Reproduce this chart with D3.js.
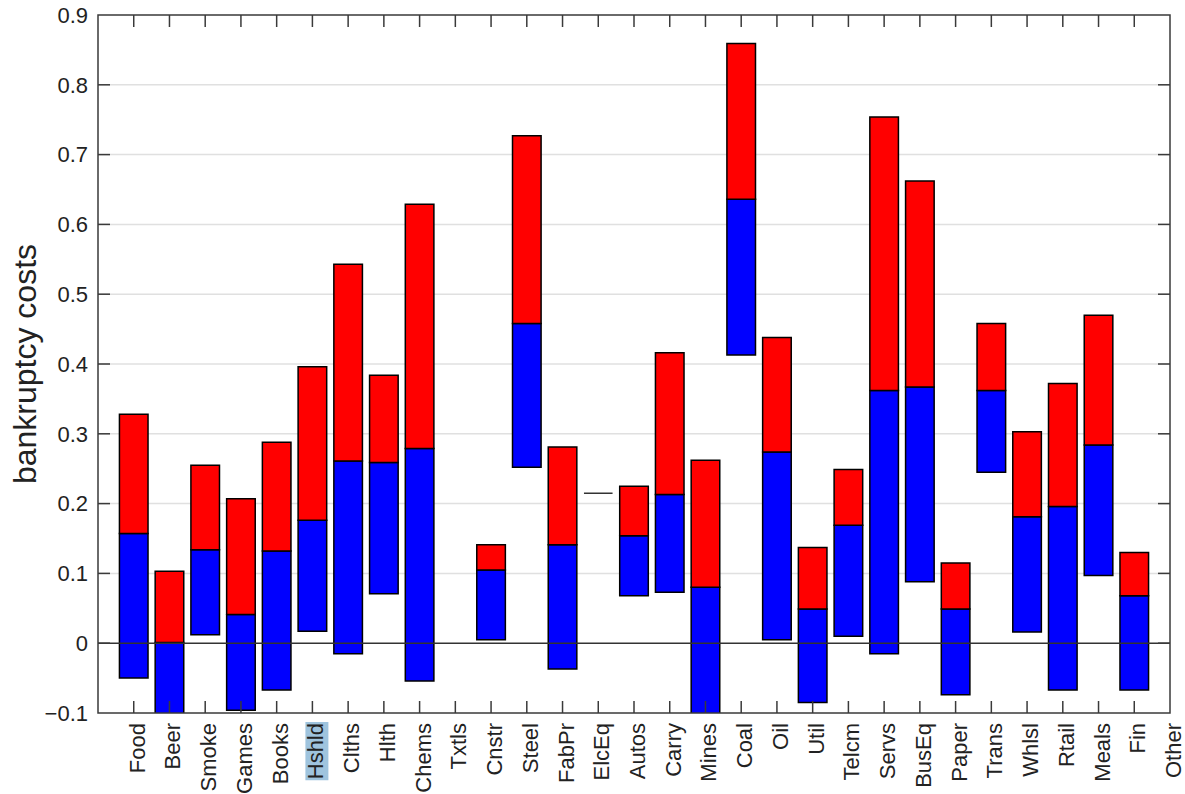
<!DOCTYPE html>
<html>
<head>
<meta charset="utf-8">
<script src="https://cdn.jsdelivr.net/npm/d3@7"></script>
<style>
  html, body { margin: 0; padding: 0; background: #fff; }
  svg { display: block; }
  text { font-family: Arial, "Liberation Sans", Helvetica, sans-serif; fill: #222; }
</style>
</head>
<body>
<svg id="chart" width="1185" height="794"></svg>
<script>
// Industry bankruptcy-cost ranges: blue = low..mid, red = mid..high
const categories = ["Food", "Beer", "Smoke", "Games", "Books", "Hshld", "Clths", "Hlth", "Chems", "Txtls",
  "Cnstr", "Steel", "FabPr", "ElcEq", "Autos", "Carry", "Mines", "Coal", "Oil", "Util",
  "Telcm", "Servs", "BusEq", "Paper", "Trans", "Whlsl", "Rtail", "Meals", "Fin", "Other"];

const lowValues = [-0.050, -0.110, 0.012, -0.096, -0.067, 0.017, -0.015, 0.071, -0.054, null,
  0.005, 0.252, -0.037, 0.215, 0.068, 0.073, -0.110, 0.413, 0.005, -0.085,
  0.010, -0.015, 0.088, -0.074, 0.245, 0.016, -0.067, 0.097, -0.067, null];

const midValues = [0.157, 0.001, 0.134, 0.041, 0.132, 0.176, 0.261, 0.259, 0.279, null,
  0.105, 0.458, 0.141, 0.215, 0.154, 0.213, 0.080, 0.636, 0.274, 0.049,
  0.169, 0.362, 0.367, 0.049, 0.362, 0.181, 0.196, 0.284, 0.068, null];

const highValues = [0.328, 0.103, 0.255, 0.207, 0.288, 0.396, 0.543, 0.384, 0.629, null,
  0.141, 0.727, 0.281, 0.215, 0.225, 0.416, 0.262, 0.859, 0.438, 0.137,
  0.249, 0.754, 0.662, 0.115, 0.458, 0.303, 0.372, 0.470, 0.130, null];

const yTicks = [-0.1, 0, 0.1, 0.2, 0.3, 0.4, 0.5, 0.6, 0.7, 0.8, 0.9];
const highlighted = "Hshld";

const svg = d3.select("#chart");
const plotLeft = 98, plotRight = 1170, plotTop = 15, plotBottom = 713;

// category i sits at position i+1 on a [0, 30] axis
const x = d3.scaleLinear().domain([0, categories.length]).range([plotLeft, plotRight]);
const y = d3.scaleLinear().domain([-0.1, 0.9]).range([plotBottom, plotTop]);
const barW = 0.8 * (x(1) - x(0));
const tickLen = 12;

svg.append("defs").append("clipPath").attr("id", "plotclip")
  .append("rect").attr("x", plotLeft).attr("y", plotTop)
  .attr("width", plotRight - plotLeft).attr("height", plotBottom - plotTop);

// horizontal grid
svg.append("g").selectAll("line").data(yTicks.filter(t => t !== 0 && t > -0.1 && t < 0.9)).join("line")
  .attr("x1", plotLeft).attr("x2", plotRight)
  .attr("y1", d => y(d)).attr("y2", d => y(d))
  .attr("stroke", "#e0e0e0").attr("stroke-width", 1.5);

// floating bars, drawn as closed paths so zero-height ranges still show as a line
const rows = categories.map((c, i) => ({ c, i, lo: lowValues[i], mid: midValues[i], hi: highValues[i] }))
  .filter(d => d.lo !== null);

function seg(d, a, b) {
  const cx = x(d.i + 1);
  const x0 = cx - barW / 2, x1 = cx + barW / 2;
  return `M${x0},${y(a)}H${x1}V${y(b)}H${x0}Z`;
}

const bars = svg.append("g").attr("clip-path", "url(#plotclip)");
bars.selectAll("path.lower").data(rows.filter(d => d.mid > d.lo)).join("path")
  .attr("class", "lower")
  .attr("d", d => seg(d, d.lo, d.mid))
  .attr("fill", "#0000ff").attr("stroke", "#000").attr("stroke-width", 1.5);
bars.selectAll("path.upper").data(rows.filter(d => d.hi > d.mid)).join("path")
  .attr("class", "upper")
  .attr("d", d => seg(d, d.mid, d.hi))
  .attr("fill", "#ff0000").attr("stroke", "#000").attr("stroke-width", 1.5);
bars.selectAll("path.flat").data(rows.filter(d => d.hi === d.lo)).join("path")
  .attr("class", "flat")
  .attr("d", d => seg(d, d.lo, d.hi))
  .attr("fill", "none").attr("stroke", "#333").attr("stroke-width", 1.5);

// zero reference line
svg.append("line")
  .attr("x1", plotLeft).attr("x2", plotRight).attr("y1", y(0)).attr("y2", y(0))
  .attr("stroke", "#333").attr("stroke-width", 1.5);

// axes box with inward ticks on all four sides
const axes = svg.append("g").attr("stroke", "#3a3a3a").attr("stroke-width", 1.5);
axes.append("rect").attr("x", plotLeft).attr("y", plotTop)
  .attr("width", plotRight - plotLeft).attr("height", plotBottom - plotTop)
  .attr("fill", "none");
const yt = yTicks.filter(t => t > -0.1 && t < 0.9);
axes.selectAll("line.yl").data(yt).join("line").attr("class", "yl")
  .attr("x1", plotLeft).attr("x2", plotLeft + tickLen).attr("y1", d => y(d)).attr("y2", d => y(d));
axes.selectAll("line.yr").data(yt).join("line").attr("class", "yr")
  .attr("x1", plotRight).attr("x2", plotRight - tickLen).attr("y1", d => y(d)).attr("y2", d => y(d));
const xt = categories.map((c, i) => i + 1).filter(p => p < categories.length);
axes.selectAll("line.xb").data(xt).join("line").attr("class", "xb")
  .attr("x1", d => x(d)).attr("x2", d => x(d)).attr("y1", plotBottom).attr("y2", plotBottom - tickLen);
axes.selectAll("line.xt").data(xt).join("line").attr("class", "xt")
  .attr("x1", d => x(d)).attr("x2", d => x(d)).attr("y1", plotTop).attr("y2", plotTop + tickLen);

// y tick labels
svg.append("g").selectAll("text").data(yTicks).join("text")
  .attr("x", plotLeft - 10).attr("y", d => y(d)).attr("dy", "0.35em")
  .attr("text-anchor", "end").attr("font-size", 22)
  .text(d => d3.format("")(+d.toFixed(1)));

// rotated category labels
const lab = svg.append("g").selectAll("g").data(categories).join("g")
  .attr("transform", (d, i) => `translate(${x(i + 1) + 11},${plotBottom + 10}) rotate(-90)`);
lab.each(function (d) {
  const g = d3.select(this);
  const t = g.append("text").attr("text-anchor", "end").attr("font-size", 22).text(d);
  if (d === highlighted) {
    const bb = t.node().getBBox();
    g.insert("rect", "text")
      .attr("x", bb.x - 1).attr("y", bb.y + 2).attr("width", bb.width + 2).attr("height", bb.height - 2)
      .attr("fill", "#9fc4de");
  }
});

// y axis title
svg.append("text")
  .attr("transform", `translate(36,364) rotate(-90)`)
  .attr("text-anchor", "middle").attr("font-size", 32)
  .text("bankruptcy costs");
</script>
</body>
</html>
